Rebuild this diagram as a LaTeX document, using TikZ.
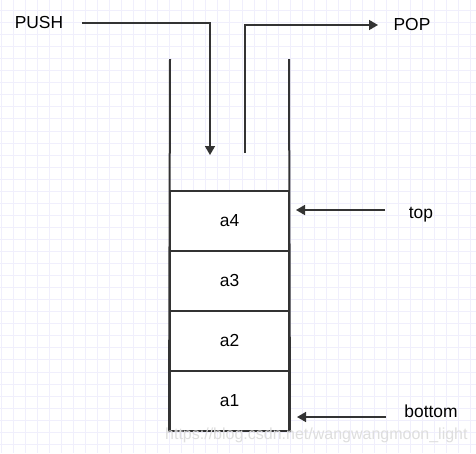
\documentclass[tikz,border=0pt]{standalone}
\usepackage{fontspec}
\setmainfont{Liberation Sans}
\usetikzlibrary{arrows.meta}
\definecolor{gridc}{RGB}{240,239,252}
\definecolor{ink}{RGB}{51,51,51}
\definecolor{wmark}{RGB}{222,222,222}
\tikzset{
  cell/.style={draw=ink, line width=2pt, fill=white, minimum width=119pt, minimum height=60pt, inner sep=0pt, font=\fontsize{17.4}{20}\selectfont},
  lbl/.style={anchor=base, inner sep=0pt, font=\fontsize{17.4}{20}\selectfont},
  wall/.style={draw=ink, line width=2pt},
  arr/.style={draw=ink, line width=1.5pt, -{Triangle[length=9pt,width=10pt]}},
  gridline/.style={draw=gridc, line width=1pt}
}
\begin{document}
\begin{tikzpicture}[x=1pt,y=-1pt]
\useasboundingbox (0,0) rectangle (476,453);
\fill[white] (0,0) rectangle (476,453);
\foreach \i in {0,...,39} \draw[gridline] ({1+12.05*\i},0) -- ({1+12.05*\i},453);
\foreach \i in {0,...,36} \draw[gridline] (0,{10.5+12.05*\i}) -- (476,{10.5+12.05*\i});

% stack cells
\node[cell] (a4) at (229.5,221) {a4};
\node[cell] (a3) at (229.5,281) {a3};
\node[cell] (a2) at (229.5,341) {a2};
\node[cell] (a1) at (229.5,401) {a1};

% walls
\coordinate (wl) at (170,59);
\coordinate (wr) at (289,59);
\draw[wall] (wl) -- (a1.south west);
\draw[wall] (wr) -- (a1.south east);

% labels
\node[lbl] (push) at (39,28.3) {PUSH};
\node[lbl] (pop) at (412,30) {POP};
\node[lbl] (top) at (421,218.3) {top};
\node[lbl] (bottom) at (431,417.3) {bottom};

% arrows
\coordinate (pushs) at (82,23);
\coordinate (pushe) at (210,155);
\coordinate (pops) at (245,153);
\coordinate (pope) at (378,25);
\coordinate (tops) at (385,210);
\coordinate (tope) at (296,210);
\coordinate (bots) at (386,417);
\coordinate (bote) at (297,417);
\draw[arr] (pushs) -| (pushe);
\draw[arr] (pops) |- (pope);
\draw[arr] (tops) -- (tope);
\draw[arr] (bots) -- (bote);

% watermark
\node[anchor=base west, inner sep=0pt, text=wmark, font=\fontsize{16}{18}\selectfont] (wm) at (165,439) {https://blog.csdn.net/wangwangmoon\_light};
\end{tikzpicture}
\end{document}
